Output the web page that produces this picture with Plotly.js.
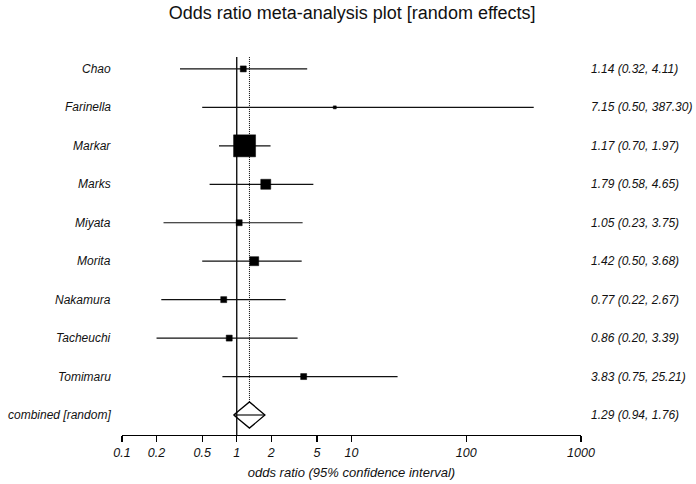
<!DOCTYPE html>
<html>
<head>
<meta charset="utf-8">
<script src="https://cdn.plot.ly/plotly-3.0.1.min.js"></script>
<style>html,body{margin:0;padding:0;background:#fff;}#chart{width:696px;height:484px;}</style>
</head>
<body>
<div id="chart"></div>
<script>
// Study data
const studies = ["Chao","Farinella","Markar","Marks","Miyata","Morita","Nakamura","Tacheuchi","Tomimaru"];
const oddsRatio = [1.14, 7.15, 1.17, 1.79, 1.05, 1.42, 0.77, 0.86, 3.83];
const ciLow     = [0.32, 0.50, 0.70, 0.58, 0.23, 0.50, 0.22, 0.20, 0.75];
const ciHigh    = [4.11, 387.30, 1.97, 4.65, 3.75, 3.68, 2.67, 3.39, 25.21];
const boxSize   = [6, 3, 22, 10, 6, 9, 6, 6, 6];
const combinedLabel = "combined [random]";
const combinedOR = 1.29, combinedLow = 0.94, combinedHigh = 1.76;
const tickVals = [0.1, 0.2, 0.5, 1, 2, 5, 10, 100, 1000];
const tickText = ["0.1","0.2","0.5","1","2","5","10","100","1000"];

const n = studies.length;
const rowY = studies.map((s,i) => n - i);   // Chao at top
const combY = 0;
const dh = 0.34; // diamond half-height

const fmt = v => v.toFixed(2);
const labelsRight = studies.map((s,i)=> `${fmt(oddsRatio[i])} (${fmt(ciLow[i])}, ${fmt(ciHigh[i])})`);
labelsRight.push(`${fmt(combinedOR)} (${fmt(combinedLow)}, ${fmt(combinedHigh)})`);
const labelsLeft = studies.concat([combinedLabel]);
const labelY = rowY.concat([combY]);

const traces = [];
// reference line at 1 and dotted line at combined estimate
traces.push({x:[1,1], y:[-0.52, n+0.31], mode:'lines', line:{color:'#000', width:1.3}, hoverinfo:'skip', showlegend:false});
traces.push({x:[combinedOR, combinedOR], y:[dh, n+0.31], mode:'lines', line:{color:'#000', width:1, dash:'1px,1px'}, hoverinfo:'skip', showlegend:false});
// CI lines
const lx = [], ly = [];
for (let i=0;i<n;i++){ lx.push(ciLow[i], ciHigh[i], null); ly.push(rowY[i], rowY[i], null); }
lx.push(combinedLow, combinedHigh); ly.push(combY, combY);
traces.push({x:lx, y:ly, mode:'lines', line:{color:'#111', width:1.2}, hoverinfo:'skip', showlegend:false, connectgaps:false});
// boxes
traces.push({x:oddsRatio, y:rowY, mode:'markers', opacity:1,
  marker:{symbol:'square', size:boxSize, color:'#000000', opacity:1, line:{width:0.5, color:'#000000'}}, showlegend:false});
// diamond
traces.push({x:[combinedLow, combinedOR, combinedHigh, combinedOR, combinedLow], y:[combY, combY+dh, combY, combY-dh, combY],
  mode:'lines', line:{color:'#000', width:1.3}, fill:'none', showlegend:false, hoverinfo:'skip'});

const annotations = [];
const fontLab = {family:'Liberation Sans, Arial, sans-serif', size:12, color:'#111', style:'italic'};
for (let i=0;i<labelsLeft.length;i++){
  annotations.push({xref:'paper', yref:'y', x:-0.02, y:labelY[i], text:labelsLeft[i], showarrow:false, xanchor:'right', yanchor:'middle', font:fontLab});
  annotations.push({xref:'paper', yref:'y', x:1.0174, y:labelY[i], text:labelsRight[i], showarrow:false, xanchor:'left', yanchor:'middle', font:fontLab});
}

const layout = {
  width:696, height:484,
  margin:{l:122, r:115, t:57, b:49},
  paper_bgcolor:'#fff', plot_bgcolor:'#fff',
  title:{text:'Odds ratio meta-analysis plot [random effects]', x:0.506, xref:'container', xanchor:'center', y:0.974, yref:'container', yanchor:'middle',
    font:{family:'Liberation Sans, Arial, sans-serif', size:18, color:'#111'}},
  xaxis:{type:'log', range:[-1,3], tickvals:tickVals, ticktext:tickText, showgrid:false, zeroline:false,
    showline:true, linecolor:'#000', linewidth:1.3, ticks:'outside', ticklen:6, tickcolor:'#000', tickwidth:1.3,
    tickfont:{family:'Liberation Sans, Arial, sans-serif', size:12.5, color:'#111', style:'italic'},
    title:{text:'odds ratio (95% confidence interval)', standoff:8, font:{family:'Liberation Sans, Arial, sans-serif', size:13, color:'#111', style:'italic'}}},
  yaxis:{range:[-0.52, n+0.31], visible:false, showgrid:false, zeroline:false, fixedrange:true},
  annotations:annotations,
  showlegend:false
};
Plotly.newPlot('chart', traces, layout, {displayModeBar:false, staticPlot:true});
</script>
</body>
</html>
